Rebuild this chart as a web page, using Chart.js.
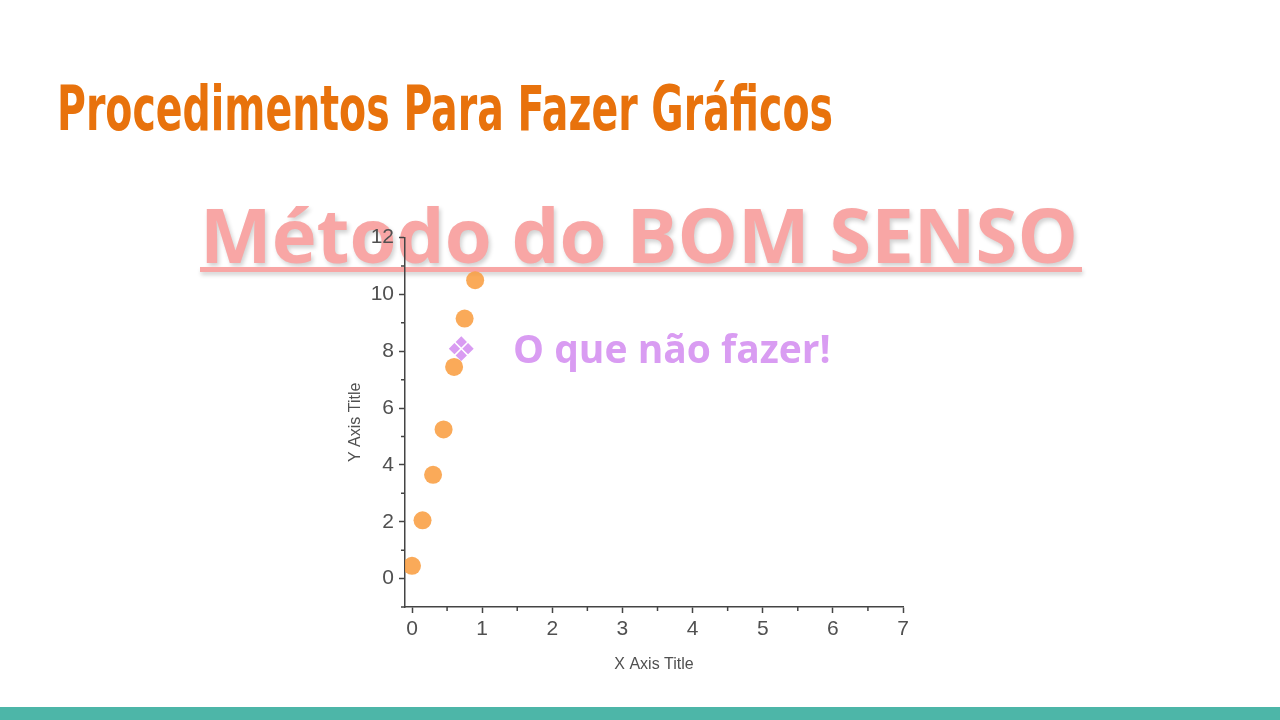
<!DOCTYPE html>
<html>
<head>
<meta charset="utf-8">
<script src="https://cdn.jsdelivr.net/npm/chart.js@4.4.1/dist/chart.umd.min.js"></script>
<style>
  html, body { margin: 0; padding: 0; background: #fff; }
  body { width: 1280px; height: 720px; position: relative; overflow: hidden; }
  #title {
    position: absolute; left: 57px; top: 78px; margin: 0;
    font: bold 62px "DejaVu Sans Condensed", "DejaVu Sans", sans-serif;
    line-height: 1; color: #e8720c; white-space: nowrap;
    transform: scaleX(0.707); transform-origin: 0 0;
  }
  #stamp {
    position: absolute; left: 200px; top: 196px;
    font: bold 76px "Open Sans", sans-serif; line-height: 1;
    color: #f8a6a5; white-space: nowrap;
    text-shadow: 2px 3px 4px rgba(0, 0, 0, 0.18);
  }
  #stamp-line {
    position: absolute; left: 200px; top: 267px; width: 882px; height: 5px;
    background: #f8a6a5; box-shadow: 1px 3px 4px rgba(0, 0, 0, 0.18);
  }
  #note-mark, #note {
    position: absolute; font: bold 39px "Open Sans", "DejaVu Sans", sans-serif;
    line-height: 1; color: #d99cf2; white-space: nowrap;
  }
  #note-mark { left: 446px; top: 332px; font-size: 34px; font-family: "DejaVu Sans", sans-serif; }
  #note { left: 513px; top: 328px; }
  #box { position: absolute; left: 330px; top: 220px; width: 630px; height: 470px; }
  #bar { position: absolute; left: 0; top: 707px; width: 1280px; height: 13px; background: #4db6a8; }
</style>
</head>
<body>
<h1 id="title">Procedimentos Para Fazer Gráficos</h1>
<div id="stamp">Método do BOM SENSO</div>
<div id="stamp-line"></div>
<div id="box"><canvas id="chart"></canvas></div>
<div id="note-mark">❖</div>
<div id="note">O que não fazer!</div>
<div id="bar"></div>
<script>
const xValues = [0, 0.15, 0.3, 0.45, 0.6, 0.75, 0.9];
const yValues = [0.45, 2.05, 3.65, 5.25, 7.45, 9.15, 10.5];
const xTicks = [0, 1, 2, 3, 4, 5, 6, 7];
const xMinorTicks = [0.5, 1.5, 2.5, 3.5, 4.5, 5.5, 6.5];
const yTicks = [0, 2, 4, 6, 8, 10, 12];
const yMinorTicks = [-1, 1, 3, 5, 7, 9, 11];

const axisColor = "#444";
const labelColor = "#505050";

// short ticks between the labelled ones
const minorTicks = {
   id: "minorTicks",
   afterDraw(chart) {
      const { ctx, scales } = chart;
      ctx.save();
      ctx.strokeStyle = axisColor;
      ctx.lineWidth = 1.5;
      ctx.beginPath();
      xMinorTicks.forEach((v) => {
         const px = scales.x.getPixelForValue(v);
         ctx.moveTo(px, scales.x.top);
         ctx.lineTo(px, scales.x.top + 4);
      });
      yMinorTicks.forEach((v) => {
         const py = scales.y.getPixelForValue(v);
         ctx.moveTo(scales.y.right, py);
         ctx.lineTo(scales.y.right - 4, py);
      });
      ctx.stroke();
      ctx.restore();
   },
};

const ctx = document.getElementById("chart").getContext("2d");

new Chart(ctx, {
   type: "scatter",
   data: {
      datasets: [
         {
            data: xValues.map((x, i) => ({ x: x, y: yValues[i] })),
            backgroundColor: "rgba(249, 155, 60, 0.85)",
            borderWidth: 0,
            pointRadius: 9,
         },
      ],
   },
   options: {
      responsive: true,
      maintainAspectRatio: false,
      animation: false,
      layout: { padding: { top: 17, right: 57, left: 0, bottom: 0 } },
      plugins: { legend: { display: false }, tooltip: { enabled: false } },
      scales: {
         x: {
            type: "linear",
            min: -0.1,
            max: 7,
            afterBuildTicks: (s) => { s.ticks = xTicks.map((v) => ({ value: v })); },
            afterFit: (s) => { s.height = 83; },
            border: { display: true, color: axisColor, width: 1.5 },
            grid: { drawOnChartArea: false, tickLength: 6, tickColor: axisColor, tickWidth: 1.5 },
            ticks: { color: labelColor, padding: 4, font: { family: "Liberation Sans", size: 21 } },
            title: {
               display: true,
               text: "X Axis Title",
               color: labelColor,
               font: { family: "Liberation Sans", size: 16 },
               padding: { top: 0, bottom: 16 },
            },
         },
         y: {
            type: "linear",
            min: -1,
            max: 12,
            afterBuildTicks: (s) => { s.ticks = yTicks.map((v) => ({ value: v })); },
            afterFit: (s) => { s.width = 75; },
            border: { display: true, color: axisColor, width: 1.5 },
            grid: { drawOnChartArea: false, tickLength: 6, tickColor: axisColor, tickWidth: 1.5 },
            ticks: { color: labelColor, padding: 5, font: { family: "Liberation Sans", size: 21 } },
            title: {
               display: true,
               text: "Y Axis Title",
               color: labelColor,
               font: { family: "Liberation Sans", size: 16 },
               padding: { top: 16, bottom: 0 },
            },
         },
      },
   },
   plugins: [minorTicks],
});
</script>
</body>
</html>
